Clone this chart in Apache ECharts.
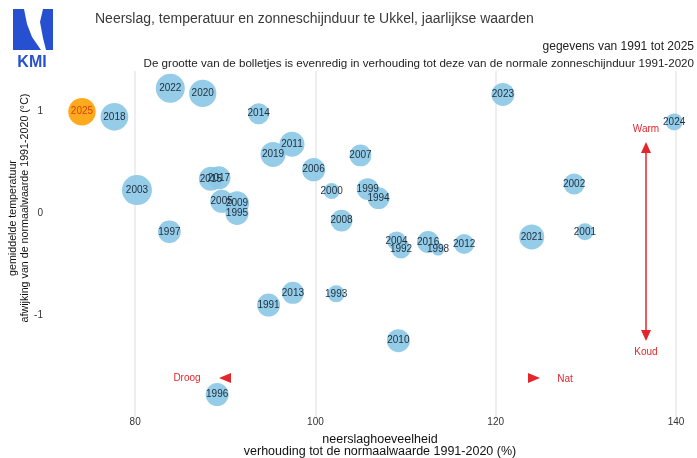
<!DOCTYPE html>
<html>
<head>
<meta charset="utf-8">
<script src="https://cdn.jsdelivr.net/npm/echarts@6/dist/echarts.min.js"></script>
<style>
  html, body { margin: 0; padding: 0; background: #fff; }
  #chart { width: 697px; height: 458px; }
</style>
</head>
<body>
<div id="chart"></div>
<script>
// jaren en waarden
var years = [1991, 1992, 1993, 1994, 1995, 1996, 1997, 1998, 1999, 2000,
  2001, 2002, 2003, 2004, 2005, 2006, 2007, 2008, 2009, 2010,
  2011, 2012, 2013, 2014, 2015, 2016, 2017, 2018, 2019, 2020,
  2021, 2022, 2023, 2024, 2025];
// neerslag, % van normaal
var rain = [94.8, 109.5, 102.3, 107.0, 91.3, 89.1, 83.8, 113.6, 105.8, 101.8,
  129.9, 128.7, 80.2, 109.0, 89.6, 99.8, 105.0, 102.9, 91.3, 109.2,
  97.4, 116.5, 97.5, 93.7, 88.4, 112.5, 89.3, 77.7, 95.3, 87.5,
  124.0, 83.9, 120.8, 139.8, 74.1];
// temperatuurafwijking, °C
var temp = [-0.90, -0.35, -0.79, 0.15, 0.00, -1.78, -0.18, -0.35, 0.24, 0.22,
  -0.18, 0.29, 0.23, -0.27, 0.12, 0.43, 0.57, -0.07, 0.10, -1.25,
  0.68, -0.30, -0.78, 0.98, 0.34, -0.28, 0.35, 0.95, 0.58, 1.18,
  -0.23, 1.23, 1.17, 0.90, 1.00];
// zonneschijnduur, % van normaal (geschat uit de grootte van de bolletjes)
var sun = [92, 76, 68, 87, 92, 92, 91, 52, 87, 64,
  68, 84, 120, 76, 92, 93, 87, 87, 96, 92,
  100, 80, 88, 84, 96, 88, 92, 111, 100, 109,
  100, 116, 92, 68, 110];
var xTicks = [80, 100, 120, 140];
var yTicks = [-1, 0, 1];
var lastYear = 2025;

var blue = '#8cc8e6';
var orange = '#ffa30a';
var red = '#e3262b';
var font = 'Liberation Sans, Arial, sans-serif';

var points = years.map(function (y, i) {
  return [rain[i], temp[i], sun[i], y];
});

var chart = echarts.init(document.getElementById('chart'));

var option = {
  animation: false,
  textStyle: { fontFamily: font },
  title: {
    text: 'Neerslag, temperatuur en zonneschijnduur te Ukkel, jaarlijkse waarden',
    left: 90,
    top: 7,
    textStyle: { fontSize: 14, fontWeight: 'normal', color: '#3a3a3a', fontFamily: font }
  },
  grid: { left: 45, top: 71, width: 650, height: 346 },
  xAxis: {
    type: 'value',
    min: 70,
    max: 142,
    interval: 10,
    axisLine: { show: false },
    axisTick: { show: false },
    splitLine: { show: false },
    axisLabel: {
      margin: 0,
      fontSize: 10,
      color: '#333',
      formatter: function (v) { return xTicks.indexOf(v) >= 0 ? String(v) : ''; }
    }
  },
  yAxis: {
    type: 'value',
    min: -2,
    max: 1.4,
    interval: 1,
    axisLine: { show: false },
    axisTick: { show: false },
    splitLine: { show: false },
    axisLabel: {
      margin: 2,
      fontSize: 10,
      color: '#333',
      formatter: function (v) { return yTicks.indexOf(v) >= 0 ? String(v) : ''; }
    }
  },
  series: [{
    // verticale rasterlijnen
    type: 'scatter',
    z: 1,
    data: [],
    markLine: {
      z: 1,
      silent: true,
      symbol: 'none',
      label: { show: false },
      lineStyle: { color: '#e9e9e9', width: 1.5, type: 'solid' },
      data: xTicks.map(function (v) { return { xAxis: v }; })
    }
  }, {
    type: 'scatter',
    z: 6,
    data: points,
    symbolSize: function (d) { return d[2] * 0.25; },
    itemStyle: {
      opacity: 0.92,
      color: function (p) { return p.data[3] === lastYear ? orange : blue; }
    },
    label: {
      show: true,
      position: 'inside',
      fontSize: 10,
      fontFamily: font,
      color: '#14202c',
      formatter: function (p) {
        return p.data[3] === lastYear ? '{last|' + p.data[3] + '}' : String(p.data[3]);
      },
      rich: {
        last: { color: '#d8360f', fontSize: 10, fontFamily: font }
      }
    }
  }],
  graphic: [
    // KMI logo
    { type: 'polygon', shape: { points: [[13, 9], [24, 9], [27, 24], [32, 37], [41, 50], [13, 50]] }, style: { fill: '#2650d0' } },
    { type: 'polygon', shape: { points: [[43, 9], [53, 9], [53, 50], [46, 50], [43, 38], [40, 22]] }, style: { fill: '#2650d0' } },
    { type: 'text', x: 32, y: 63, style: { text: 'KMI', font: 'bold 16px ' + font, fill: '#2650d0', textAlign: 'center', textVerticalAlign: 'middle' } },
    // ondertitels
    { type: 'text', x: 694, y: 47, style: { text: 'gegevens van 1991 tot 2025', font: '12px ' + font, fill: '#222', textAlign: 'right', textVerticalAlign: 'middle' } },
    { type: 'text', x: 694, y: 64, style: { text: 'De grootte van de bolletjes is evenredig in verhouding tot deze van de normale zonneschijnduur 1991-2020', font: '11.6px ' + font, fill: '#222', textAlign: 'right', textVerticalAlign: 'middle' } },
    // astitels
    { type: 'text', x: 380, y: 440, style: { text: 'neerslaghoeveelheid', font: '12.5px ' + font, fill: '#111', textAlign: 'center', textVerticalAlign: 'middle' } },
    { type: 'text', x: 380, y: 452, style: { text: 'verhouding tot de normaalwaarde 1991-2020 (%)', font: '12.5px ' + font, fill: '#111', textAlign: 'center', textVerticalAlign: 'middle' } },
    { type: 'text', x: 13, y: 218, rotation: Math.PI / 2, style: { text: 'gemiddelde temperatuur', font: '10.7px ' + font, fill: '#111', textAlign: 'center', textVerticalAlign: 'middle' } },
    { type: 'text', x: 25, y: 208, rotation: Math.PI / 2, style: { text: 'afwijking van de normaalwaarde 1991-2020 (°C)', font: '10.7px ' + font, fill: '#111', textAlign: 'center', textVerticalAlign: 'middle' } },
    // rode aanduidingen
    { type: 'text', x: 187, y: 378, style: { text: 'Droog', font: '10px ' + font, fill: red, textAlign: 'center', textVerticalAlign: 'middle' } },
    { type: 'polygon', shape: { points: [[219, 378], [231, 373], [231, 383]] }, style: { fill: red } },
    { type: 'polygon', shape: { points: [[528, 373], [528, 383], [540, 378]] }, style: { fill: red } },
    { type: 'text', x: 565, y: 379, style: { text: 'Nat', font: '10px ' + font, fill: red, textAlign: 'center', textVerticalAlign: 'middle' } },
    { type: 'line', shape: { x1: 646, y1: 150, x2: 646, y2: 333 }, style: { stroke: red, lineWidth: 1.5 } },
    { type: 'polygon', shape: { points: [[646, 142], [641, 153], [651, 153]] }, style: { fill: red } },
    { type: 'polygon', shape: { points: [[646, 341], [641, 330], [651, 330]] }, style: { fill: red } },
    { type: 'text', x: 646, y: 129, style: { text: 'Warm', font: '10px ' + font, fill: red, textAlign: 'center', textVerticalAlign: 'middle' } },
    { type: 'text', x: 646, y: 352, style: { text: 'Koud', font: '10px ' + font, fill: red, textAlign: 'center', textVerticalAlign: 'middle' } }
  ]
};

chart.setOption(option);
</script>
</body>
</html>
